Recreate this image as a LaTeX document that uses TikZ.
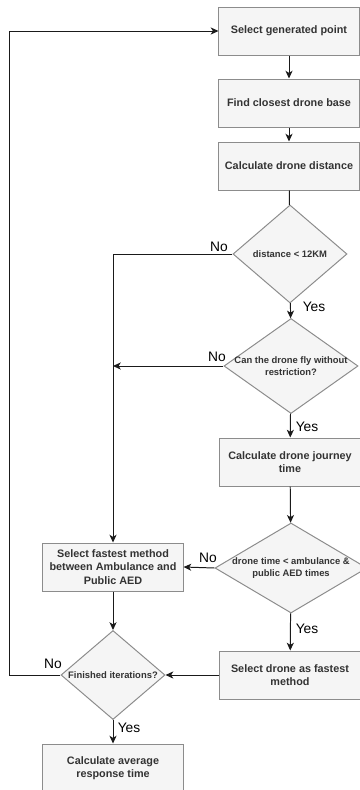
\documentclass[tikz,border=0pt]{standalone}
\usepackage{fontspec}
\setmainfont{Liberation Sans}
\usepackage{tikz}
\usetikzlibrary{arrows.meta,positioning,shapes.geometric}
\definecolor{boxfill}{HTML}{F5F5F5}
\definecolor{boxline}{HTML}{8C8C8C}
\definecolor{boxtext}{HTML}{333333}
\definecolor{wire}{HTML}{1A1A1A}
\tikzset{
  >={Stealth[length=5.5pt,width=5pt,inset=1.5pt]},
  every node/.style={text=boxtext},
  proc/.style={draw=boxline,fill=boxfill,line width=0.7pt,minimum width=3.5cm,minimum height=1.2cm,align=center,inner sep=2pt,font=\fontsize{7.7}{9.4}\selectfont\bfseries},
  decision/.style={diamond,draw=boxline,fill=boxfill,line width=0.7pt,inner sep=-40pt},
  dtext/.style={font=\fontsize{6.7}{8.2}\selectfont\bfseries,align=center,text=boxtext,inner sep=0pt},
  yn/.style={font=\fontsize{9.8}{11}\selectfont,text=black,inner sep=0pt},
  arrow/.style={->,line width=0.7pt,draw=wire},
  line/.style={line width=0.7pt,draw=wire}
}
\begin{document}
\begin{tikzpicture}[x=0.025cm,y=-0.025cm]
  \useasboundingbox (0,0) rectangle (360,790);
  \fill[white] (0,0) rectangle (360,790);

  \node[proc] (gen) at (289,31) {Select generated point};
  \node[proc] (base) at (289,103) {Find closest drone base};
  \node[proc] (dist) at (289,166) {Calculate drone distance};
  \node[decision,minimum width=2.85cm,minimum height=2.45cm,label={[dtext]center:distance {<} 12KM}] (d1) at (290,254) {};
  \node[decision,minimum width=3.35cm,minimum height=2.375cm,label={[dtext]center:Can the drone fly without\\restriction?}] (d2) at (291,366) {};
  \node[proc] (journey) at (290,462) {Calculate drone journey\\time};
  \node[decision,minimum width=3.8cm,minimum height=2.25cm,label={[dtext]center:drone time {<} ambulance \&\\public AED times}] (d3) at (291,568) {};
  \node[proc] (fastest) at (113,567) {Select fastest method\\between Ambulance and\\Public AED};
  \node[proc] (drone) at (290,675) {Select drone as fastest\\method};
  \node[decision,minimum width=2.6cm,minimum height=2.225cm,label={[dtext]center:Finished iterations?}] (d4) at (113,675) {};
  \node[proc] (avg) at (113,768) {Calculate average\\response time};

  \node[yn] (no1) at (219,247) {No};
  \node[yn] (yes1) at (314,307) {Yes};
  \node[yn] (no2) at (217,357) {No};
  \node[yn] (yes2) at (307,427) {Yes};
  \node[yn] (no3) at (208,558) {No};
  \node[yn] (yes3) at (307,629) {Yes};
  \node[yn] (no4) at (53,664) {No};
  \node[yn] (yes4) at (129,728) {Yes};

  \coordinate (loopx) at (9,0);
  \coordinate (join) at (fastest.north |- d2.west);

  \draw[arrow] (gen)--(base);
  \draw[arrow] (base)--(dist);
  \draw[line] (dist)--(d1);
  \draw[arrow] (d1)--(d2);
  \draw[arrow] (d2)--(journey);
  \draw[arrow] (journey)--(d3);
  \draw[arrow] (d3)--(drone);
  \draw[arrow] (d3.west)--(fastest.east);
  \draw[arrow] (d1.west) -| (fastest.north);
  \draw[arrow] (d2.west)--(join);
  \draw[arrow] (fastest)--(d4);
  \draw[arrow] (drone.west)--(d4.east);
  \draw[arrow] (d4)--(avg);
  \draw[arrow] (d4.west)--(d4.west -| loopx) |- (gen.west);
\end{tikzpicture}
\end{document}
